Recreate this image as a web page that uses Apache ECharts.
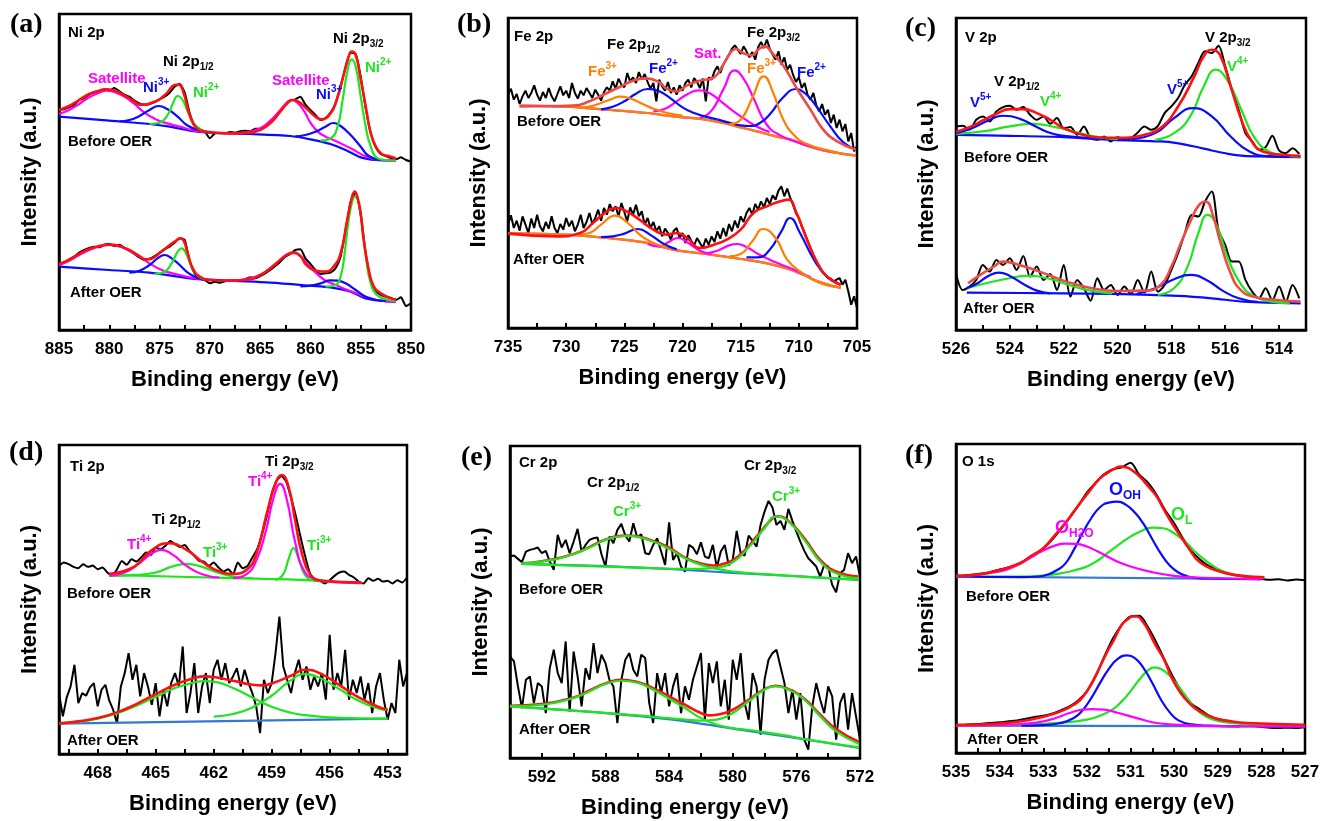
<!DOCTYPE html>
<html>
<head>
<meta charset="utf-8">
<title>XPS spectra before and after OER</title>
<script src="https://cdn.jsdelivr.net/npm/echarts@6/dist/echarts.min.js"></script>
<style>
  html, body { margin: 0; padding: 0; background: #ffffff; }
  #chart { width: 1323px; height: 821px; }
</style>
</head>
<body>
<div id="chart"></div>
<script>
// ---------------------------------------------------------------------------
// Measured scans: intensity (a.u.) sampled on a regular binding-energy grid.
// Fitted curves: [binding energy (eV), intensity (a.u.)] pairs.
// ---------------------------------------------------------------------------

// ---- (a) Ni 2p ----
const niScan = { start: 885, step: -0.5 };
const niBeforeRaw = [660,662,668,675,690,695,706,712,716,722,718,726,716,706,700,688,680,676,678,684,692,700,712,730,738,712,650,612,598,595,575,590,592,590,594,592,596,598,596,604,603,612,622,636,656,675,688,692,700,676,660,645,630,636,652,680,730,790,832,828,760,665,590,548,528,522,516,512,518,510,505];
const niAfterRaw = [195,202,212,220,232,240,246,250,248,256,258,252,256,246,238,228,218,210,214,222,232,242,250,262,275,270,205,168,155,150,140,145,142,146,148,150,146,152,158,155,162,170,180,192,205,220,228,240,242,215,198,180,168,170,172,185,220,300,385,412,345,230,150,118,105,100,96,90,98,72,80];
const niBeforeBase = [[885,640],[880,628],[876,618],[874,610],[872,598],[870,592],[866,588],[862,582],[860,572],[858,558],[856.5,540],[855,518],[853.5,510],[851.5,508]];
const niBeforeSat1 = [[885,648],[884,660],[883,678],[882,698],[881,712],[880.3,718],[879.5,714],[878.5,700],[877.5,678],[876.5,652],[875.5,634],[874.5,622],[873,610],[871.5,598],[870,592]];
const niBeforeNi3a = [[879,626],[878,630],[877,642],[876,660],[875.1,672],[874.2,662],[873.2,640],[872.3,615],[871.2,600],[870,593]];
const niBeforeNi2a = [[876,618],[875,622],[874.2,645],[873.6,685],[873.2,702],[872.7,690],[872.2,655],[871.6,620],[870.8,600],[870,593]];
const niBeforeSat2 = [[868,590],[866.5,593],[865,605],[864,628],[863,660],[862.3,684],[861.9,690],[861.3,682],[860.6,655],[860,622],[859.3,596],[858.5,580],[857.7,570],[856,545],[854.4,520],[852.5,509],[851.5,508]];
const niBeforeNi3b = [[861.5,581],[860.5,585],[859.5,595],[858.5,610],[857.7,621],[857,612],[856,585],[855,550],[854.2,522],[853,510]];
const niBeforeNi2b = [[859,568],[858,575],[857.3,610],[856.8,690],[856.3,780],[855.9,812],[855.5,790],[855,700],[854.5,610],[854,550],[853.3,515],[852.5,510],[851.5,508]];
const niBeforeFit = [[885,660],[884,672],[883,690],[882,708],[881,718],[880.2,722],[879.3,716],[878.3,700],[877.5,685],[877,676],[876.4,676],[875.8,682],[875.1,690],[874.3,710],[873.5,735],[873.1,736],[872.6,710],[872,645],[871.3,605],[870.3,595],[868,590],[866,592],[865,600],[864,620],[863,655],[862.3,680],[861.8,690],[861.2,685],[860.4,665],[859.5,640],[858.9,632],[858,650],[857.4,690],[856.7,765],[856.2,820],[855.9,835],[855.5,825],[855.05,760],[854.5,670],[854,590],[853.5,550],[852.9,528],[852,520],[851.5,515]];
const niAfterBase = [[885,190],[880,180],[876,172],[872,155],[868,148],[864,142],[860,133],[858,128],[856,115],[854.5,95],[853,88],[851.5,85]];
const niAfterSat1 = [[885,195],[884,208],[883,225],[882,240],[881,251],[880,255],[879,251],[878,238],[877,220],[876,200],[875,183],[874,172],[873,165],[872,158],[871,153]];
const niAfterNi3a = [[878,172],[877,178],[876,195],[875.2,215],[874.5,225],[873.8,215],[873,195],[872.2,172],[871.3,157],[870.5,152]];
const niAfterNi2a = [[875.5,168],[874.5,175],[873.8,200],[873.2,235],[872.8,245],[872.4,232],[871.9,195],[871.3,165],[870.5,152]];
const niAfterSat2 = [[868,148],[866.5,152],[865,165],[864,185],[863,210],[862.2,228],[861.6,231],[861,222],[860.2,195],[859.4,170],[858.5,148],[857.5,135],[856.5,122],[855,105],[854,95],[853,88],[851.5,84]];
const niAfterNi3b = [[861,131],[860,133],[859,140],[858,149],[857.3,148],[856.5,140],[855.5,120],[854.5,100],[853.5,90],[852.5,87]];
const niAfterNi2b = [[858.5,130],[857.5,135],[857,160],[856.6,230],[856.2,330],[855.8,390],[855.55,400],[855.2,380],[854.8,300],[854.4,200],[854,140],[853.5,108],[852.5,92],[851.5,87]];
const niAfterFit = [[885,198],[884,210],[883,228],[882,243],[881,252],[880,256],[879,252],[878,240],[877,222],[876.4,212],[875.8,214],[875.1,228],[874.4,245],[873.5,265],[872.9,275],[872.6,268],[872.2,230],[871.7,185],[871,160],[870,150],[868,148],[866,152],[865,165],[864.3,178],[863.4,200],[862.4,225],[861.7,232],[861,222],[860.4,195],[859.4,178],[858.5,175],[857.7,190],[857,230],[856.4,320],[855.9,395],[855.6,415],[855.3,395],[855,350],[854.7,270],[854.2,180],[853.7,130],[853,110],[852,95],[851.5,92]];

// ---- (b) Fe 2p ----
const feScan = { start: 735, step: -0.25 };
const feBeforeRaw = [700,
  718,685,702,672, 695,712,690,705, 728,700,682,708, 690,720,695,680, 702,725,698,712,
  690,735,705,688, 712,698,720,705, 690,715,700,682, 708,722,712,740, 718,748,730,722,
  765,740,752,735, 768,745,762,738, 718,735,680,745, 725,712,738,705, 722,700,728,712,
  735,745,722,750, 738,720,748,680, 752,745,770,785, 765,790,805,820, 838,848,835,822,
  845,830,812,828, 805,842,858,840, 865,838,820,805, 830,790,812,775, 790,760,738,752,
  720,735,700,685, 705,668,650,672, 640,655,615,640, 600,625,590,612, 560,585,530,545];
const feAfterRaw = [310,
  338,300,322,292, 335,310,285,328, 300,340,305,290, 318,298,335,300, 285,312,295,330,
  305,322,290,310, 340,300,318,345, 312,330,355,322, 360,340,372,350, 365,335,375,348,
  320,362,340,370, 335,350,310,330, 300,318,290,305, 275,298,285,265, 292,300,270,285,
  255,278,262,248, 270,255,240,268, 250,275,258,290, 268,300,275,312, 290,322,300,335,
  318,345,360,340, 372,355,380,362, 390,372,398,385, 412,425,395,418, 392,370,345,330,
  305,285,262,240, 218,200,185,170, 160,150,148,140, 145,150,130,145, 110,70,95,60];
const feBeforeBase = [[734,667],[730,664],[726.5,655],[723,645],[720.8,635],[718,625],[716.5,615],[715,602],[713.6,590],[712,575],[710.7,565],[709.3,547],[707.9,533],[706.5,524],[705.1,517]];
const feBeforeFe3a = [[729,661],[728,664],[727,675],[726,688],[725.4,694],[724.6,690],[723.6,675],[722.5,658],[721.3,645],[720,637]];
const feBeforeFe2a = [[727,656],[726,664],[725,680],[724,703],[723,717],[722,710],[721,688],[720,662],[719,645],[718,634],[717,626]];
const feBeforeSatA = [[722.5,650],[721.5,658],[720.5,680],[719.5,703],[718.6,713],[717.7,705],[716.7,680],[715.7,652],[714.7,628],[713.5,602],[712.5,588]];
const feBeforeSatB = [[718.5,630],[717.5,652],[716.5,715],[715.5,773],[714.7,745],[713.9,690],[712.8,612],[711.6,578],[710,556],[708.5,540],[707,528]];
const feBeforeFe3b = [[716,612],[715,625],[714,690],[713,755],[712.2,705],[711.4,630],[710.4,578],[709.3,552],[707.5,533],[706,522]];
const feBeforeFe2b = [[717,626],[716,616],[715,608],[714.2,606],[713.3,616],[712.4,645],[711.4,690],[710.2,717],[709.5,705],[708.7,675],[707.3,605],[706.15,556],[705.1,536]];
const feBeforeFit = [[734,665],[731,666],[729.4,667],[728,680],[726.5,705],[725.4,723],[724,745],[723.1,749],[721.9,735],[721.4,718],[720.5,710],[719.6,728],[718.5,742],[717.3,752],[716.5,790],[715.8,830],[715.4,837],[714.8,825],[714.1,818],[713.4,838],[712.9,845],[712.3,825],[711.3,785],[710.2,720],[709,655],[707.9,595],[706.7,560],[705.1,535]];
const feAfterBase = [[735,285],[730,280],[726.5,270],[723,255],[720.8,235],[718,222],[716.5,215],[715,207],[713.6,200],[712,188],[710.7,175],[709.5,158],[708.7,145],[707.5,130],[706.4,120]];
const feAfterFe3a = [[729,280],[728,285],[727,310],[725.8,337],[724.7,315],[723.6,278],[722.5,255],[721.5,244]];
const feAfterFe2a = [[727,273],[726,275],[725,283],[723.85,297],[722.7,278],[721.6,252],[720.5,236]];
const feAfterSatA = [[723,252],[722,244],[721.2,258],[720.4,270],[719.5,255],[718.5,232],[717.5,222]];
const feAfterSatB = [[718,224],[717,232],[716,248],[715.3,252],[714.5,243],[713.5,222],[712.5,205],[711.5,190],[710.5,176],[709,152]];
const feAfterFe3b = [[716,215],[715,222],[714,260],[713.05,297],[712,270],[711,205],[709.9,170],[708.2,135],[706.4,123]];
const feAfterFe2b = [[714.5,212],[713.5,212],[712.5,235],[711.5,290],[710.75,330],[709.9,285],[708.7,205],[707.6,155],[706.4,130]];
const feAfterFit = [[735,283],[730.8,275],[728.8,285],[727.7,315],[726.5,350],[725.7,360],[724.8,350],[723.7,325],[722.5,295],[721.4,280],[720.5,285],[719.6,270],[718.5,240],[717.3,250],[716.2,265],[715,295],[713.9,345],[712.75,365],[711.6,380],[710.9,385],[710.2,345],[709.3,265],[708.4,195],[707.6,155],[706.4,130]];

// ---- (c) V 2p ----
const vScan = { start: 526, step: -0.25 };
const vBeforeRaw = [610,612,600,630,640,625,655,668,672,660,668,645,630,640,618,635,605,608,585,610,575,570,580,565,578,570,575,592,610,600,612,650,670,695,735,760,800,835,830,852,790,720,660,590,565,540,548,582,538,530,545,528];
const vAfterRaw = [170,120,130,150,195,175,210,195,215,180,222,160,190,150,168,120,195,100,150,125,88,155,120,135,105,130,108,150,112,175,115,135,180,230,290,345,340,385,415,300,255,205,205,150,115,95,125,90,130,85,135,95];
const vBeforeBase = [[526,585],[524,582],[522,578],[520.2,570],[518.4,565],[517.8,560],[517.15,550],[516.5,538],[515.9,528],[515.3,522],[514.7,520],[513.2,518]];
const vBeforeV5a = [[526,590],[525.4,605],[524.8,628],[524.25,642],[523.6,632],[523,608],[522.4,588],[521.8,580],[521,575]];
const vBeforeV4a = [[526,588],[525,595],[524,610],[523.15,618],[522.3,608],[521.5,592],[520.7,578],[520,572]];
const vBeforeV5b = [[519.5,572],[518.6,590],[517.9,635],[517.2,665],[516.5,640],[515.8,580],[515.1,535],[514.4,521],[513.6,519]];
const vBeforeV4b = [[518.6,570],[517.9,590],[517.3,640],[516.8,730],[516.35,780],[515.9,745],[515.4,660],[514.9,575],[514.3,532],[513.7,522],[513.2,520]];
const vBeforeFit = [[526,594],[525.5,608],[525,628],[524.5,648],[524,662],[523.5,662],[523,650],[522.5,630],[522,605],[521.3,585],[520.5,576],[519.7,576],[519,585],[518.4,605],[517.75,670],[517.15,760],[516.8,820],[516.5,840],[516.2,825],[515.8,730],[515.4,630],[515.05,570],[514.6,535],[513.85,525],[513.2,522]];
const vAfterBase = [[525.6,112],[522,110],[520.2,108],[517.76,102],[516.5,95],[515.3,85],[513.2,80]];
const vAfterV5a = [[525.6,125],[525.2,140],[524.8,162],[524.4,172],[524,162],[523.5,138],[523,118],[522.5,110]];
const vAfterV4a = [[525.6,125],[525,138],[524.2,152],[523.4,162],[522.6,155],[521.8,135],[521,118],[520.2,110]];
const vAfterV5b = [[519.3,108],[518.6,125],[517.9,152],[517.3,165],[516.7,150],[516.1,118],[515.5,95],[514.8,84]];
const vAfterV4b = [[518.5,105],[517.9,125],[517.4,190],[517,290],[516.65,345],[516.3,310],[515.9,215],[515.4,135],[514.9,100],[514.3,85],[513.6,80]];
const vAfterFit = [[525.55,140],[525.1,165],[524.6,190],[524.26,205],[523.65,195],[522.9,175],[521.9,145],[520.95,125],[520,117],[519,118],[518.4,135],[518,190],[517.65,260],[517.27,330],[516.97,375],[516.72,385],[516.48,350],[516.17,260],[515.8,170],[515.43,120],[514.94,100],[514.09,90],[513.2,85]];

// ---- (d) Ti 2p ----
const tiBeforeScan = { start: 470, step: -0.25 };
const tiAfterScan = { start: 470, step: -0.2 };
const tiBeforeRaw = [565,575,570,562,558,570,562,566,555,560,545,535,555,580,568,585,578,590,605,598,620,615,625,640,630,622,628,610,595,580,578,565,575,560,548,555,540,575,558,565,590,615,660,715,780,820,835,818,770,715,650,590,540,525,520,512,522,535,545,548,538,530,518,512,528,520,526,518,520,512,522,515,530];
const tiAfterRaw = [183,113,170,203,268,153,183,175,200,213,143,193,208,160,133,93,203,243,303,223,268,173,243,203,148,213,113,193,143,213,243,203,323,123,183,273,123,203,243,153,253,283,223,273,213,233,258,203,253,213,183,143,63,223,183,213,303,413,263,223,183,243,283,223,263,193,233,203,243,163,358,193,243,203,313,163,223,183,233,163,213,123,203,243,163,103,153,123,283,203,243];
const tiBeforeBase = [[467.4,538],[461,528],[457.5,523],[454.35,513]];
const tiBeforeTi4a = [[467.4,536],[466.6,545],[465.8,575],[465.2,602],[464.7,613],[464.1,598],[463.4,565],[462.6,540],[461.7,530]];
const tiBeforeTi3a = [[467.4,535],[466,538],[465,545],[464.2,562],[463.4,571],[462.6,562],[461.8,545],[461,533],[460,528]];
const tiBeforeTi4b = [[461,528],[460.3,540],[459.8,580],[459.3,670],[458.9,770],[458.56,811],[458.2,760],[457.8,640],[457.3,548],[456.7,525],[455.5,515],[454.35,513]];
const tiBeforeTi3b = [[458.8,522],[458.4,540],[458.1,590],[457.87,618],[457.6,585],[457.3,540],[456.9,522],[456.3,518]];
const tiBeforeFit = [[467.4,541],[466.1,563],[465.3,608],[464.33,633],[463.4,613],[462.5,573],[461.7,548],[461,541],[460.3,553],[459.8,600],[459.25,723],[458.8,813],[458.48,838],[458.13,803],[457.79,703],[457.44,603],[457,538],[456.5,521],[454.35,515]];
const tiAfterBase = [[470,91],[453,106]];
const tiAfterTi3a = [[470,92],[469,97],[468,106],[467,122],[466,145],[465,172],[464,198],[463,215],[462.5,219],[461.8,215],[461,198],[460,170],[459,142],[458,124],[457,115],[456,110],[454.5,107],[453,106]];
const tiAfterTi3b = [[462,112],[461,120],[460,140],[459,175],[458,222],[457.3,240],[456.5,228],[455.5,195],[454.5,160],[453.5,137],[453,132]];
const tiAfterFit = [[470,92],[469,98],[468,108],[467,125],[466,150],[465,180],[464,208],[463,228],[462.5,233],[462,231],[461,220],[460,208],[459.5,206],[459,212],[458,235],[457.3,253],[456.5,242],[455.5,207],[454.5,170],[453.5,142],[453,133]];

// ---- (e) Cr 2p ----
const crScan = { start: 594, step: -0.25 };
const crBeforeRaw = [605,608,598,588,620,625,628,632,615,622,590,565,670,632,655,615,650,688,620,640,655,660,662,612,575,665,645,685,703,668,650,705,662,672,615,612,640,660,620,580,708,595,615,575,560,640,632,612,648,605,600,640,572,620,640,578,595,682,615,608,668,652,635,700,740,772,752,700,712,685,748,712,680,650,622,600,588,575,545,580,575,520,498,555,565,615,585,605,545];
const crAfterRaw = [305,290,215,150,235,245,165,225,215,135,270,325,255,225,350,140,320,245,155,270,235,345,255,310,285,235,215,105,235,295,315,265,245,310,300,165,105,255,195,255,155,215,255,135,215,175,235,275,315,115,285,225,290,155,235,115,295,235,315,165,115,255,215,70,235,295,315,325,275,225,135,205,115,195,55,25,155,225,175,135,215,185,55,165,195,85,195,125,55];
const crBeforeBase = [[593.3,583],[588,576],[583.77,567],[580,556],[577.44,550],[575,543],[572.06,535]];
const crBeforeCr1 = [[593.3,584],[592,590],[591,598],[590,612],[589,632],[588,655],[587,666],[586.5,667],[586,664],[585,650],[584,628],[583,600],[582,580],[581,568],[580,560],[578,552],[576,546],[574,540],[572.06,536]];
const crBeforeCr2 = [[593.3,583],[590,578],[586,572],[583,568],[582,568],[581,572],[580,588],[579,632],[578,690],[577.3,725],[576.5,710],[575.5,655],[574.5,590],[573.5,555],[572.1,540]];
const crBeforeFit = [[593.3,585],[592,591],[590,613],[588,656],[587,667],[586.5,668],[585,652],[584,632],[583,602],[582,584],[581.2,578],[580.5,584],[579.5,612],[578.5,665],[577.5,720],[577.2,726],[576.5,712],[575.5,660],[574.5,595],[573.5,560],[572.1,545]];
const crAfterBase = [[594,155],[588,135],[583.77,115],[579.55,85],[575.33,55],[572.06,30]];
const crAfterCr1 = [[594,155],[592,160],[591,168],[590,180],[589,200],[588,222],[587,232],[586,226],[585,205],[584,178],[583,150],[582,120],[581,100],[580,90],[579,84],[577,70],[575,53],[572.06,32]];
const crAfterCr2 = [[594,155],[590,142],[586,128],[583,115],[582,112],[581,115],[580,135],[579,170],[578,205],[577.3,215],[576.5,205],[575.5,175],[574.5,125],[573.5,80],[572.06,42]];
const crAfterFit = [[594,157],[592,162],[590,182],[589,203],[588,224],[587,235],[586,228],[585,210],[584,185],[583,160],[582,135],[581.5,128],[581,130],[580,145],[579,175],[578,207],[577.3,217],[576.5,207],[575.5,178],[574.5,130],[573.5,87],[572.06,48]];

// ---- (f) O 1s ----
const oScan = { start: 535, step: -0.2 };
const oBeforeRaw = [532,533,536,539,544,551,557,566,580,596,614,640,672,705,742,782,812,838,852,858,872,836,812,775,728,690,645,606,580,561,552,540,534,530,527,523,520,522,518,521,519];
const oAfterRaw = [84,85,86,88,90,92,95,98,103,108,112,118,128,140,158,185,230,290,345,385,410,412,378,330,275,222,180,148,130,112,102,97,92,88,82,78,76,75,76,75,77];
const oBeforeBase = [[535,530],[528,522]];
const oBeforeH2O = [[535,531],[534.5,535],[534,545],[533.75,555],[533.5,570],[533.25,590],[533,608],[532.75,622],[532.5,629],[532.25,628],[532,620],[531.75,605],[531.5,588],[531.25,572],[531,560],[530.5,543],[530,532],[529.5,527],[528,522]];
const oBeforeOH = [[535,530],[533.5,528],[533.1,530],[532.9,536],[532.7,548],[532.5,568],[532.3,610],[532.1,660],[531.9,705],[531.7,738],[531.5,752],[531.3,755],[531.1,745],[530.9,722],[530.7,688],[530.5,642],[530.3,598],[530.1,563],[529.9,542],[529.7,531],[529.5,526],[529.2,524],[528,522]];
const oBeforeOL = [[535,530],[533.5,530],[533,533],[532.5,542],[532.25,550],[532,560],[531.75,578],[531.5,603],[531.25,627],[531,650],[530.75,667],[530.5,677],[530.25,675],[530,660],[529.75,635],[529.5,602],[529.25,575],[529,553],[528.75,540],[528.5,532],[528,526],[527.93,525]];
const oBeforeFit = [[535,532],[534.45,537],[533.84,555],[533.5,572],[533.3,590],[533,615],[532.76,650],[532.5,690],[532.3,725],[532.1,760],[531.92,790],[531.7,825],[531.54,840],[531.35,855],[531.23,860],[531.1,858],[530.92,845],[530.75,825],[530.62,805],[530.4,770],[530.23,730],[530.05,690],[529.85,650],[529.65,612],[529.47,580],[529.25,560],[529.08,550],[528.62,535],[527.93,528]];
const oAfterBase = [[535,82],[527,80]];
const oAfterH2O = [[535,82],[534,84],[533.5,87],[533,95],[532.7,106],[532.4,120],[532.1,130],[531.88,132],[531.6,130],[531.3,121],[531,110],[530.7,99],[530.4,90],[530,85],[529.5,82],[528.5,80],[527,80]];
const oAfterOH = [[533.5,82],[533,84],[532.6,90],[532.3,105],[532.1,128],[531.9,165],[531.7,210],[531.5,252],[531.3,282],[531.08,293],[530.9,285],[530.7,255],[530.5,210],[530.3,160],[530.1,122],[529.9,98],[529.6,86],[529.2,82],[528.5,80]];
const oAfterOL = [[535,82],[533.5,85],[532.5,92],[532,100],[531.7,112],[531.4,132],[531.2,155],[531,185],[530.8,220],[530.6,248],[530.45,257],[530.3,252],[530.1,232],[529.9,200],[529.7,165],[529.5,132],[529.3,112],[529.1,100],[528.8,92],[528.4,87],[527.9,84],[527,82]];
const oAfterFit = [[535,84],[534.07,88],[533.3,100],[532.6,125],[532.3,145],[532.15,160],[532,185],[531.77,240],[531.55,300],[531.38,340],[531.2,385],[531.08,400],[530.95,410],[530.85,410],[530.75,400],[530.62,375],[530.45,330],[530.23,280],[530.05,225],[529.85,180],[529.65,150],[529.47,130],[529.08,105],[528.7,95],[528.32,90],[527,85]];

// ---------------------------------------------------------------------------
// Styling
// ---------------------------------------------------------------------------
const SANS = 'Liberation Sans, Arial, sans-serif';
const SERIF = 'Liberation Serif, Times New Roman, serif';
const X_TITLE = 'Binding energy (eV)';
const Y_TITLE = 'Intensity (a.u.)';
const COLOR = {
  raw: '#000000', fit: '#ff1010', fitSoft: '#ee4b45',
  blue: '#0a0aff', green: '#1ee61e', magenta: '#ff00ff',
  orange: '#ff8000', base: '#3478d4', text: '#000000'
};

function scan(grid, values) {
  return values.map((v, i) => [Math.round((grid.start + i * grid.step) * 1000) / 1000, v]);
}
const raw = (data, smooth) => ({ data, color: COLOR.raw, width: 2, smooth: smooth || 0, z: 2 });
const base = (data, color) => ({ data, color, width: 2.2, smooth: 0.3, z: 3 });
const comp = (data, color) => ({ data, color, width: 2.2, smooth: 0.5, z: 4 });
const fit = (data, color, z) => ({ data, color: color || COLOR.fit, width: 2.6, smooth: 0.5, z: z || 5 });

// ---------------------------------------------------------------------------
// Panels
// ---------------------------------------------------------------------------
const panels = [
  {
    box: { left: 59, top: 14, width: 352, height: 316 }, yMax: 948,
    x: { min: 850, max: 885, interval: 2.5, show: v => v % 5 === 0 },
    traces: [
      raw(scan(niScan, niBeforeRaw), 0.2), raw(scan(niScan, niAfterRaw), 0.2),
      base(niBeforeBase, COLOR.blue), base(niAfterBase, COLOR.blue),
      comp(niBeforeSat1, COLOR.magenta), comp(niBeforeSat2, COLOR.magenta),
      comp(niBeforeNi3a, COLOR.blue), comp(niBeforeNi3b, COLOR.blue),
      comp(niBeforeNi2a, COLOR.green), comp(niBeforeNi2b, COLOR.green),
      comp(niAfterSat1, COLOR.magenta), comp(niAfterSat2, COLOR.magenta),
      comp(niAfterNi3a, COLOR.blue), comp(niAfterNi3b, COLOR.blue),
      comp(niAfterNi2a, COLOR.green), comp(niAfterNi2b, COLOR.green),
      fit(niBeforeFit), fit(niAfterFit)
    ]
  },
  {
    box: { left: 508, top: 18, width: 349, height: 310 }, yMax: 930,
    x: { min: 705, max: 735, interval: 2.5, show: v => v % 5 === 0 },
    traces: [
      raw(scan(feScan, feBeforeRaw)), raw(scan(feScan, feAfterRaw)),
      base(feBeforeBase, COLOR.magenta), base(feAfterBase, COLOR.magenta),
      comp(feBeforeSatA, COLOR.magenta), comp(feBeforeSatB, COLOR.magenta),
      comp(feBeforeFe2a, COLOR.blue), comp(feBeforeFe2b, COLOR.blue),
      comp(feBeforeFe3a, COLOR.orange), comp(feBeforeFe3b, COLOR.orange),
      comp(feAfterSatA, COLOR.magenta), comp(feAfterSatB, COLOR.magenta),
      comp(feAfterFe2a, COLOR.blue), comp(feAfterFe2b, COLOR.blue),
      comp(feAfterFe3a, COLOR.orange), comp(feAfterFe3b, COLOR.orange),
      base(feBeforeBase, COLOR.orange), base(feAfterBase, COLOR.orange),
      fit(feBeforeFit, COLOR.fitSoft), fit(feAfterFit)
    ]
  },
  {
    box: { left: 956, top: 18, width: 350, height: 312 }, yMax: 935,
    x: { min: 513, max: 526, interval: 1, show: v => v % 2 === 0 },
    traces: [
      raw(scan(vScan, vBeforeRaw), 0.3), raw(scan(vScan, vAfterRaw), 0.3),
      base(vBeforeBase, COLOR.blue), base(vAfterBase, COLOR.blue),
      comp(vBeforeV4a, COLOR.green), comp(vBeforeV4b, COLOR.green),
      comp(vBeforeV5a, COLOR.blue), comp(vBeforeV5b, COLOR.blue),
      comp(vAfterV4a, COLOR.green), comp(vAfterV4b, COLOR.green),
      comp(vAfterV5a, COLOR.blue), comp(vAfterV5b, COLOR.blue),
      fit(vBeforeFit), fit(vAfterFit, COLOR.fitSoft)
    ]
  },
  {
    box: { left: 59, top: 445, width: 348, height: 309 }, yMax: 928,
    x: { min: 452, max: 470, ticks: [469.5, 468, 466.5, 465, 463.5, 462, 460.5, 459, 457.5, 456, 454.5, 453],
         labels: [468, 465, 462, 459, 456, 453] },
    traces: [
      raw(scan(tiBeforeScan, tiBeforeRaw), 0.2), raw(scan(tiAfterScan, tiAfterRaw)),
      base(tiBeforeBase, COLOR.green), base(tiAfterBase, COLOR.base),
      comp(tiBeforeTi3a, COLOR.green), comp(tiBeforeTi3b, COLOR.green),
      comp(tiBeforeTi4a, COLOR.magenta), comp(tiBeforeTi4b, COLOR.magenta),
      comp(tiAfterTi3a, COLOR.green), comp(tiAfterTi3b, COLOR.green),
      fit(tiBeforeFit), fit(tiAfterFit)
    ]
  },
  {
    box: { left: 510, top: 446, width: 350, height: 312 }, yMax: 937,
    x: { min: 572, max: 594, interval: 2, show: v => (v - 572) % 4 === 0 },
    traces: [
      raw(scan(crScan, crBeforeRaw)), raw(scan(crScan, crAfterRaw)),
      base(crBeforeBase, COLOR.base), base(crAfterBase, COLOR.base),
      fit(crBeforeFit, COLOR.fit, 3.5), fit(crAfterFit, COLOR.fit, 3.5),
      comp(crBeforeCr1, COLOR.green), comp(crBeforeCr2, COLOR.green),
      comp(crAfterCr1, COLOR.green), comp(crAfterCr2, COLOR.green)
    ]
  },
  {
    box: { left: 956, top: 444, width: 349, height: 309 }, yMax: 928,
    x: { min: 527, max: 535, interval: 0.5, show: v => Number.isInteger(v) },
    traces: [
      raw(scan(oScan, oBeforeRaw), 0.3), raw(scan(oScan, oAfterRaw), 0.3),
      base(oBeforeBase, COLOR.base), base(oAfterBase, COLOR.base),
      comp(oBeforeOL, COLOR.green), comp(oBeforeOH, COLOR.blue), comp(oBeforeH2O, COLOR.magenta),
      comp(oAfterOL, COLOR.green), comp(oAfterOH, COLOR.blue), comp(oAfterH2O, COLOR.magenta),
      fit(oBeforeFit), fit(oAfterFit)
    ]
  }
];

// ---------------------------------------------------------------------------
// Annotations (panel letters, core levels, species, sample state)
// ---------------------------------------------------------------------------
const panelTags = [
  ['(a)', 10, 25], ['(b)', 457, 25], ['(c)', 905, 29],
  ['(d)', 9, 453], ['(e)', 461, 458], ['(f)', 905, 456]
];
const notes = [
  // Ni 2p
  ['Ni 2p', 68, 33, COLOR.text], ['Ni 2p{sub|1/2}', 163, 62, COLOR.text], ['Ni 2p{sub|3/2}', 333, 39, COLOR.text],
  ['Satellite', 88, 79, COLOR.magenta], ['Ni{sup|3+}', 143, 88, COLOR.blue], ['Ni{sup|2+}', 193, 93, COLOR.green],
  ['Satellite', 272, 81, COLOR.magenta], ['Ni{sup|3+}', 316, 95, COLOR.blue], ['Ni{sup|2+}', 365, 68, COLOR.green],
  ['Before OER', 68, 142, COLOR.text], ['After OER', 70, 293, COLOR.text],
  // Fe 2p
  ['Fe 2p', 514, 37, COLOR.text], ['Fe 2p{sub|1/2}', 607, 45, COLOR.text], ['Fe 2p{sub|3/2}', 747, 33, COLOR.text],
  ['Fe{sup|3+}', 588, 72, COLOR.orange], ['Fe{sup|2+}', 649, 69, COLOR.blue], ['Sat.', 694, 54, COLOR.magenta],
  ['Fe{sup|3+}', 747, 69, COLOR.orange], ['Fe{sup|2+}', 797, 73, COLOR.blue],
  ['Before OER', 517, 122, COLOR.text], ['After OER', 513, 260, COLOR.text],
  // V 2p
  ['V 2p', 965, 38, COLOR.text], ['V 2p{sub|1/2}', 994, 82, COLOR.text], ['V 2p{sub|3/2}', 1205, 38, COLOR.text],
  ['V{sup|5+}', 970, 103, COLOR.blue], ['V{sup|4+}', 1040, 102, COLOR.green],
  ['V{sup|5+}', 1167, 90, COLOR.blue], ['V{sup|4+}', 1227, 67, COLOR.green],
  ['Before OER', 964, 158, COLOR.text], ['After OER', 963, 309, COLOR.text],
  // Ti 2p
  ['Ti 2p', 70, 467, COLOR.text], ['Ti 2p{sub|3/2}', 265, 462, COLOR.text], ['Ti 2p{sub|1/2}', 152, 520, COLOR.text],
  ['Ti{sup|4+}', 248, 482, COLOR.magenta], ['Ti{sup|4+}', 127, 545, COLOR.magenta],
  ['Ti{sup|3+}', 203, 553, COLOR.green], ['Ti{sup|3+}', 307, 546, COLOR.green],
  ['Before OER', 67, 594, COLOR.text], ['After OER', 67, 741, COLOR.text],
  // Cr 2p
  ['Cr 2p', 519, 463, COLOR.text], ['Cr 2p{sub|1/2}', 587, 483, COLOR.text], ['Cr 2p{sub|3/2}', 744, 466, COLOR.text],
  ['Cr{sup|3+}', 613, 512, COLOR.green], ['Cr{sup|3+}', 772, 497, COLOR.green],
  ['Before OER', 519, 590, COLOR.text], ['After OER', 519, 730, COLOR.text],
  // O 1s
  ['O 1s', 962, 462, COLOR.text],
  ['O{sub|OH}', 1109, 490, COLOR.blue, 18], ['O{sub|L}', 1171, 515, COLOR.green, 18], ['O{sub|H2O}', 1055, 528, COLOR.magenta, 18],
  ['Before OER', 966, 597, COLOR.text], ['After OER', 967, 740, COLOR.text]
];

// ---------------------------------------------------------------------------
// Assemble the option
// ---------------------------------------------------------------------------
const grids = [], xAxes = [], yAxes = [], series = [];
panels.forEach((p, i) => {
  grids.push(Object.assign({ show: true, borderColor: '#000', borderWidth: 2.5, backgroundColor: 'transparent' }, p.box));
  const ax = {
    gridIndex: i, type: 'value', inverse: true, min: p.x.min, max: p.x.max,
    axisLine: { show: true, onZero: false, lineStyle: { color: '#000', width: 2.5 } },
    axisTick: { show: true, inside: true, length: 5, lineStyle: { color: '#000', width: 2 } },
    axisLabel: { color: '#000', fontFamily: SANS, fontWeight: 'bold', fontSize: 17, margin: 11 },
    splitLine: { show: false },
    name: X_TITLE, nameLocation: 'middle', nameGap: 39,
    nameTextStyle: { color: '#000', fontFamily: SANS, fontWeight: 'bold', fontSize: 22 }
  };
  if (p.x.ticks) {
    ax.axisTick.customValues = p.x.ticks;
    ax.axisLabel.customValues = p.x.labels;
  } else {
    ax.interval = p.x.interval;
    const show = p.x.show;
    ax.axisLabel.formatter = v => (show(v) ? String(v) : '');
  }
  xAxes.push(ax);
  yAxes.push({
    gridIndex: i, type: 'value', min: 0, max: p.yMax,
    axisLine: { show: true, lineStyle: { color: '#000', width: 2.5 } },
    axisTick: { show: false }, axisLabel: { show: false }, splitLine: { show: false },
    name: Y_TITLE, nameLocation: 'middle', nameGap: 18, nameRotate: 90,
    nameTextStyle: { color: '#000', fontFamily: SANS, fontWeight: 'bold', fontSize: 22 }
  });
  p.traces.forEach(t => {
    series.push({
      type: 'line', xAxisIndex: i, yAxisIndex: i, data: t.data,
      symbol: 'none', showSymbol: false, smooth: t.smooth, silent: true,
      lineStyle: { color: t.color, width: t.width }, z: t.z, animation: false
    });
  });
});

function richFor(color, size) {
  const small = Math.round(size * 0.66);
  return {
    sup: { fill: color, color, fontFamily: SANS, fontWeight: 'bold', fontSize: small, lineHeight: small + 1, verticalAlign: 'top' },
    sub: { fill: color, color, fontFamily: SANS, fontWeight: 'bold', fontSize: small, lineHeight: small + 1, verticalAlign: 'bottom' }
  };
}

const graphics = [];
panelTags.forEach(([t, x, y]) => graphics.push({
  type: 'text', x, y, z: 100, silent: true,
  style: { text: t, fill: '#000', fontFamily: SERIF, fontWeight: 'bold', fontSize: 28,
           align: 'left', verticalAlign: 'middle', textAlign: 'left', textVerticalAlign: 'middle' }
}));
notes.forEach(([t, x, y, color, size]) => {
  const fs = size || 15;
  graphics.push({
    type: 'text', x, y, z: 100, silent: true,
    style: { text: t, fill: color, fontFamily: SANS, fontWeight: 'bold', fontSize: fs, lineHeight: fs + 6,
             align: 'left', verticalAlign: 'middle', textAlign: 'left', textVerticalAlign: 'middle',
             rich: richFor(color, fs) }
  });
});

const chart = echarts.init(document.getElementById('chart'), null, { renderer: 'canvas' });
chart.setOption({
  backgroundColor: '#ffffff',
  animation: false,
  grid: grids, xAxis: xAxes, yAxis: yAxes, series,
  graphic: { elements: graphics }
});
</script>
</body>
</html>
